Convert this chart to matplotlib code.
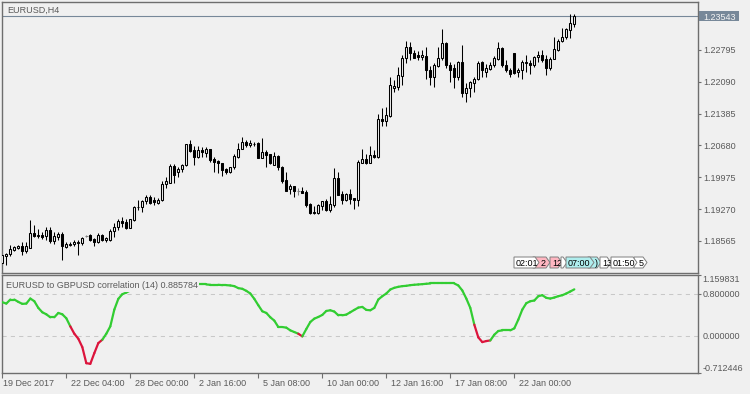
import numpy as np
import matplotlib
matplotlib.use("Agg")
import matplotlib.pyplot as plt
from matplotlib.collections import LineCollection
from matplotlib.patches import Polygon, Rectangle
from matplotlib.transforms import Affine2D, blended_transform_factory

# EURUSD H4 candles, 19 Dec 2017 .. 24 Jan 2018
opens = [
    1.1808, 1.1823, 1.1827, 1.1836, 1.1841, 1.1845, 1.1835, 1.1841, 1.1875, 1.1867,
    1.1869, 1.1867, 1.1881, 1.1857, 1.1864, 1.1872, 1.1842, 1.1847, 1.1849, 1.1851,
    1.1851, 1.1868, 1.1869, 1.1861, 1.1853, 1.1870, 1.1858, 1.1858, 1.1878, 1.1887,
    1.1901, 1.1899, 1.1886, 1.1903, 1.1931, 1.1931, 1.1945, 1.1954, 1.1948, 1.1941,
    1.1947, 1.1982, 1.1985, 1.2022, 1.2008, 1.2015, 1.2025, 1.2071, 1.2058, 1.2043,
    1.2058, 1.2052, 1.2059, 1.2037, 1.2033, 1.2028, 1.2015, 1.2008, 1.2019, 1.2043,
    1.2061, 1.2076, 1.2068, 1.2070, 1.2074, 1.2041, 1.2053, 1.2049, 1.2025, 1.2044,
    1.2021, 1.1991, 1.1971, 1.1978, 1.1966, 1.1968, 1.1965, 1.1938, 1.1919, 1.1919,
    1.1934, 1.1944, 1.1925, 1.1937, 1.1996, 1.1960, 1.1946, 1.1960, 1.1951, 1.1946,
    1.2030, 1.2037, 1.2030, 1.2046, 1.2043, 1.2126, 1.2121, 1.2133, 1.2194, 1.2198,
    1.2222, 1.2261, 1.2285, 1.2273, 1.2268, 1.2263, 1.2265, 1.2235, 1.2219, 1.2244,
    1.2261, 1.2294, 1.2246, 1.2239, 1.2220, 1.2253, 1.2185, 1.2194, 1.2207, 1.2215,
    1.2253, 1.2230, 1.2238, 1.2245, 1.2259, 1.2283, 1.2246, 1.2236, 1.2272, 1.2231,
    1.2234, 1.2250, 1.2251, 1.2246, 1.2263, 1.2268, 1.2259, 1.2239, 1.2260, 1.2279,
    1.2300, 1.2309, 1.2324, 1.2337]
highs = [
    1.1827, 1.1830, 1.1847, 1.1845, 1.1848, 1.1853, 1.1855, 1.1903, 1.1892, 1.1882,
    1.1877, 1.1888, 1.1888, 1.1877, 1.1877, 1.1877, 1.1853, 1.1853, 1.1858, 1.1858,
    1.1864, 1.1870, 1.1872, 1.1862, 1.1873, 1.1872, 1.1864, 1.1882, 1.1895, 1.1906,
    1.1909, 1.1904, 1.1906, 1.1934, 1.1947, 1.1948, 1.1958, 1.1958, 1.1953, 1.1951,
    1.1988, 1.1999, 1.2027, 1.2027, 1.2021, 1.2027, 1.2072, 1.2081, 1.2067, 1.2067,
    1.2065, 1.2064, 1.2061, 1.2043, 1.2036, 1.2030, 1.2017, 1.2021, 1.2049, 1.2074,
    1.2087, 1.2080, 1.2080, 1.2075, 1.2075, 1.2084, 1.2058, 1.2050, 1.2053, 1.2046,
    1.2022, 1.2009, 1.1982, 1.1978, 1.1974, 1.1975, 1.1969, 1.1940, 1.1934, 1.1938,
    1.1945, 1.1950, 1.1956, 1.2018, 1.2008, 1.1968, 1.1963, 1.1971, 1.1951, 1.2036,
    1.2059, 1.2049, 1.2067, 1.2058, 1.2138, 1.2150, 1.2152, 1.2219, 1.2213, 1.2242,
    1.2268, 1.2300, 1.2298, 1.2279, 1.2278, 1.2279, 1.2287, 1.2244, 1.2251, 1.2285,
    1.2326, 1.2296, 1.2253, 1.2248, 1.2256, 1.2290, 1.2207, 1.2211, 1.2220, 1.2256,
    1.2256, 1.2248, 1.2252, 1.2265, 1.2298, 1.2287, 1.2257, 1.2239, 1.2273, 1.2239,
    1.2257, 1.2268, 1.2257, 1.2265, 1.2278, 1.2279, 1.2268, 1.2263, 1.2309, 1.2303,
    1.2329, 1.2327, 1.2359, 1.2359]
lows = [
    1.1803, 1.1803, 1.1823, 1.1835, 1.1838, 1.1825, 1.1830, 1.1840, 1.1866, 1.1862,
    1.1860, 1.1858, 1.1851, 1.1850, 1.1858, 1.1814, 1.1841, 1.1844, 1.1844, 1.1825,
    1.1847, 1.1866, 1.1856, 1.1845, 1.1851, 1.1856, 1.1855, 1.1856, 1.1864, 1.1881,
    1.1888, 1.1882, 1.1884, 1.1901, 1.1925, 1.1921, 1.1938, 1.1938, 1.1936, 1.1938,
    1.1945, 1.1973, 1.1984, 1.1984, 1.1999, 1.2010, 1.2022, 1.2054, 1.2025, 1.2039,
    1.2043, 1.2043, 1.2032, 1.2010, 1.2006, 1.2000, 1.2005, 1.2006, 1.2016, 1.2041,
    1.2059, 1.2065, 1.2065, 1.2067, 1.2040, 1.2040, 1.2019, 1.2027, 1.2024, 1.2013,
    1.1984, 1.1967, 1.1960, 1.1954, 1.1957, 1.1963, 1.1931, 1.1915, 1.1917, 1.1915,
    1.1925, 1.1923, 1.1920, 1.1931, 1.1957, 1.1938, 1.1944, 1.1938, 1.1928, 1.1934,
    1.2028, 1.2027, 1.2028, 1.2039, 1.2041, 1.2111, 1.2111, 1.2130, 1.2187, 1.2191,
    1.2202, 1.2250, 1.2257, 1.2261, 1.2257, 1.2257, 1.2214, 1.2202, 1.2197, 1.2242,
    1.2257, 1.2239, 1.2209, 1.2194, 1.2213, 1.2176, 1.2165, 1.2175, 1.2187, 1.2213,
    1.2220, 1.2220, 1.2235, 1.2242, 1.2257, 1.2242, 1.2231, 1.2219, 1.2226, 1.2220,
    1.2214, 1.2231, 1.2226, 1.2242, 1.2253, 1.2253, 1.2224, 1.2235, 1.2259, 1.2276,
    1.2298, 1.2303, 1.2305, 1.2331]
closes = [
    1.1825, 1.1827, 1.1839, 1.1842, 1.1845, 1.1835, 1.1844, 1.1875, 1.1867, 1.1869,
    1.1866, 1.1881, 1.1857, 1.1867, 1.1871, 1.1844, 1.1850, 1.1849, 1.1853, 1.1854,
    1.1862, 1.1868, 1.1858, 1.1853, 1.1869, 1.1858, 1.1862, 1.1879, 1.1888, 1.1901,
    1.1897, 1.1884, 1.1904, 1.1931, 1.1932, 1.1945, 1.1954, 1.1941, 1.1943, 1.1948,
    1.1982, 1.1988, 1.2022, 1.2002, 1.2015, 1.2025, 1.2071, 1.2056, 1.2043, 1.2058,
    1.2053, 1.2059, 1.2036, 1.2031, 1.2028, 1.2013, 1.2008, 1.2019, 1.2044, 1.2061,
    1.2076, 1.2069, 1.2074, 1.2072, 1.2041, 1.2053, 1.2047, 1.2028, 1.2044, 1.2019,
    1.1988, 1.1968, 1.1978, 1.1966, 1.1966, 1.1963, 1.1937, 1.1919, 1.1920, 1.1935,
    1.1944, 1.1925, 1.1938, 1.1996, 1.1959, 1.1946, 1.1960, 1.1950, 1.1946, 1.2031,
    1.2037, 1.2030, 1.2046, 1.2043, 1.2126, 1.2121, 1.2135, 1.2202, 1.2200, 1.2224,
    1.2261, 1.2285, 1.2273, 1.2262, 1.2263, 1.2268, 1.2234, 1.2219, 1.2246, 1.2261,
    1.2294, 1.2246, 1.2236, 1.2220, 1.2253, 1.2185, 1.2194, 1.2209, 1.2215, 1.2251,
    1.2235, 1.2239, 1.2246, 1.2261, 1.2283, 1.2246, 1.2234, 1.2226, 1.2229, 1.2235,
    1.2253, 1.2253, 1.2246, 1.2263, 1.2268, 1.2257, 1.2239, 1.2259, 1.2281, 1.2300,
    1.2309, 1.2325, 1.2338, 1.23543]

# EURUSD to GBPUSD correlation (14), one value per bar
corr = [
    0.640, 0.614, 0.691, 0.691, 0.646, 0.608, 0.614, 0.710, 0.659, 0.531,
    0.448, 0.409, 0.352, 0.352, 0.435, 0.409, 0.333, 0.179, 0.038, -0.058,
    -0.218, -0.525, -0.537, -0.333, -0.141, -0.077, 0.038, 0.179, 0.499, 0.704,
    0.793, 0.825, 0.864, 0.883, 0.902, 0.921, 0.934, 0.947, 0.960, 0.966,
    0.973, 0.979, 0.979, 0.985, 0.985, 0.985, 0.985, 0.979, 0.979, 0.979,
    0.979, 0.979, 0.973, 0.973, 0.973, 0.966, 0.966, 0.960, 0.947, 0.909,
    0.896, 0.857, 0.806, 0.704, 0.582, 0.467, 0.435, 0.352, 0.288, 0.166,
    0.166, 0.154, 0.102, 0.070, 0.038, -0.013, 0.128, 0.262, 0.326, 0.358,
    0.397, 0.473, 0.486, 0.461, 0.390, 0.390, 0.403, 0.448, 0.493, 0.537,
    0.550, 0.493, 0.486, 0.531, 0.691, 0.755, 0.806, 0.883, 0.915, 0.934,
    0.947, 0.953, 0.966, 0.973, 0.979, 0.985, 0.992, 0.998, 0.998, 0.998,
    0.998, 0.998, 0.998, 0.998, 0.960, 0.864, 0.710, 0.531, 0.211, -0.032,
    -0.122, -0.102, -0.090, 0.019, 0.090, 0.102, 0.102, 0.102, 0.141, 0.307,
    0.499, 0.621, 0.659, 0.672, 0.755, 0.774, 0.723, 0.710, 0.729, 0.755,
    0.774, 0.806, 0.845, 0.885784]
# bars whose following segment is drawn red
red_bars = list(range(17, 25)) + [74] + list(range(118, 122))

price_ticks = [1.22795, 1.22090, 1.21385, 1.20680, 1.19975, 1.19270, 1.18565]
price_range = (1.17864, 1.23856)
corr_range = (-0.712446, 1.159831)
corr_levels = [0.8, 0.0]

time_bars = [0, 16, 32, 48, 64, 80, 96, 112, 128]
time_labels = ["19 Dec 2017", "22 Dec 04:00", "28 Dec 00:00", "2 Jan 16:00",
               "5 Jan 08:00", "10 Jan 00:00", "12 Jan 16:00", "17 Jan 08:00",
               "22 Jan 00:00"]

# small time tags at bottom of the price window (partly covering each other)
tag_text = ["2", "02:01", "12", "", ")", "07:00", "5", "13", "01:50"]
tag_span = [(533, 550), (514, 539), (550, 562), (561, 567), (588, 601),
            (566, 594), (634, 647), (600, 611), (611, 637)]
tag_pad = [8, 2, 2, 2, 7, 2, 5, 2, 2]
tag_fill = ["#FFB6C1", "#FFFFFF", "#FFB6C1", "#FFFFFF", "#AFEEEE",
            "#AFEEEE", "#FFFFFF", "#FFFFFF", "#FFFFFF"]

bg = "#F0F0F0"
frame = "#6E6E6E"
txt = "#5A5A5A"
green = "#32CD32"
red = "#DC143C"

plt.rcParams['font.family'] = ['Liberation Sans', 'DejaVu Sans']
plt.rcParams['font.size'] = 6.5

W, H = 750, 394
fig = plt.figure(figsize=(W / 100, H / 100), dpi=100, facecolor=bg)
px = Affine2D().scale(1 / W, -1 / H).translate(0, 1) + fig.transFigure


def box(x0, y0, x1, y1):
    return [x0 / W, 1 - y1 / H, (x1 - x0) / W, (y1 - y0) / H]


ax1 = fig.add_axes(box(2, 2, 697.5, 272.5), facecolor=bg)
ax2 = fig.add_axes(box(2, 275, 697.5, 373), facecolor=bg)
for ax in (ax1, ax2):
    for s in ax.spines.values():
        s.set_color(frame)
        s.set_linewidth(1.0)
    ax.set_xlim(-0.08, 173.8)
    ax.yaxis.tick_right()
    ax.tick_params(axis='y', length=2.5, width=0.8, color=frame,
                   labelcolor=txt, labelsize=6.5, pad=1.8)

# ---- price window ----
o = np.array(opens)
h = np.array(highs)
l = np.array(lows)
c = np.array(closes)
x = np.arange(len(c))
up = c > o
dn = c < o
flat = c == o

ax1.axhline(c[-1], color="#778899", lw=0.8, zorder=1)
ax1.vlines(x[~flat], l[~flat], h[~flat], color="black", lw=0.75, zorder=2)
ax1.vlines(x[flat], l[flat], h[flat], color="#808080", lw=0.75, zorder=2)
ax1.bar(x[up], (c - o)[up], bottom=o[up], width=0.5, facecolor=bg,
        edgecolor="black", linewidth=0.75, zorder=3)
ax1.bar(x[dn], (o - c)[dn], bottom=c[dn], width=0.5, facecolor="black",
        edgecolor="black", linewidth=0.75, zorder=3)
ax1.hlines(o[flat], x[flat] - 0.3, x[flat] + 0.3, color="#808080", lw=0.75, zorder=3)

ax1.set_ylim(*price_range)
ax1.set_yticks(price_ticks)
ax1.set_yticklabels([f"{t:.5f}" for t in price_ticks])
ax1.set_xticks([])

lab1 = blended_transform_factory(px, ax1.transData)
ax1.add_patch(Rectangle((699, c[-1] - 0.00105), 40, 0.0021, transform=lab1,
                        facecolor="#778899", edgecolor="none", clip_on=False, zorder=5))
ax1.text(703, c[-1], f"{c[-1]:.5f}", transform=lab1, va="center_baseline",
         ha="left", color="#F4F4F4", fontsize=6.5, clip_on=False, zorder=6)

fig.text(7, 12.7, "EURUSD,H4", transform=px, va="baseline", ha="left",
         color=txt, fontsize=6.5)

for i, (t, (x0, x1), pad, fc) in enumerate(zip(tag_text, tag_span, tag_pad, tag_fill)):
    z = 3 + i * 0.1
    fig.add_artist(Polygon([(x0, 257), (x1 - 4, 257), (x1, 262.5), (x1 - 4, 268), (x0, 268)],
                           closed=True, transform=px, facecolor=fc,
                           edgecolor="#7F7F7F", lw=0.7, zorder=z))
    fig.text(x0 + pad, 266.3, t, transform=px, va="baseline", ha="left",
             color="black", fontsize=6.5, zorder=z + 0.05)

# ---- correlation window ----
v = np.array(corr)
segs = np.stack([np.column_stack([x[:-1], v[:-1]]), np.column_stack([x[1:], v[1:]])], axis=1)
cols = [red if i in red_bars else green for i in range(len(v) - 1)]
ax2.add_collection(LineCollection(segs, colors=cols, linewidths=1.6,
                                  capstyle="round", zorder=3))
for lvl in corr_levels:
    ax2.axhline(lvl, color="#C8C8C8", lw=0.75, ls=(0, (4, 4)), zorder=1)
ax2.set_ylim(*corr_range)
ax2.set_yticks([corr_range[0], 0.8, corr_range[1]])
ax2.set_yticklabels([])

lab2 = blended_transform_factory(px, ax2.transData)
for val, va in [(corr_range[1], "top"), (0.8, "center_baseline"),
                (0.0, "center_baseline"), (corr_range[0], "bottom")]:
    ax2.text(702.5, val, f"{val:.6f}", transform=lab2, va=va, ha="left",
             color=txt, fontsize=6.5, clip_on=False)

ax2.set_xticks(time_bars)
ax2.set_xticklabels([])
ax2.tick_params(axis='x', length=3.3, width=0.8, color=frame)
tlab = blended_transform_factory(ax2.transData, px)
for i, (b, s) in enumerate(zip(time_bars, time_labels)):
    ax2.text(b + (0.25 if i == 0 else 1.2), 386.5, s, transform=tlab,
             va="baseline", ha="left", color=txt, fontsize=6.5, clip_on=False)

fig.text(6, 288.3, f"EURUSD to GBPUSD correlation (14) {corr[-1]:.6f}",
         transform=px, va="baseline", ha="left", color=txt, fontsize=6.5,
         bbox=dict(boxstyle="square,pad=0.15", facecolor=bg, edgecolor="none"))

fig.savefig("out.png", dpi=100, facecolor=bg)
